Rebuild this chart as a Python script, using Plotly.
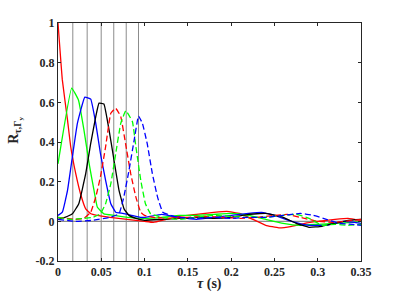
import plotly.graph_objects as go

# Vertical marker lines (peak delays)
marker_x = [0.0171, 0.0337, 0.0499, 0.0644, 0.0788, 0.0930]

# Series (tau, R)
red_x = [0, 0.005, 0.011, 0.0147, 0.0205, 0.026, 0.032, 0.038, 0.045, 0.06, 0.08, 0.1, 0.11, 0.125, 0.14, 0.16, 0.18, 0.195, 0.21, 0.225, 0.24, 0.255, 0.27, 0.285, 0.3, 0.32, 0.335, 0.35]
red_y = [1.0, 0.713, 0.51, 0.376, 0.24, 0.139, 0.063, 0.038, 0.03, 0.02, 0.01, 0.0, -0.005, 0.01, 0.025, 0.035, 0.045, 0.05, 0.04, 0.01, -0.02, -0.033, -0.025, -0.01, 0.0, 0.01, 0.015, 0.005]

green_x = [0, 0.0158, 0.0236, 0.03, 0.036, 0.0416, 0.0455, 0.053, 0.065, 0.08, 0.1, 0.12, 0.14, 0.16, 0.18, 0.2, 0.22, 0.24, 0.26, 0.28, 0.3, 0.32, 0.34, 0.35]
green_y = [0.29, 0.672, 0.612, 0.46, 0.29, 0.156, 0.071, 0.038, 0.03, 0.02, 0.015, 0.02, 0.03, 0.03, 0.035, 0.04, 0.03, 0.01, -0.01, -0.02, -0.015, -0.01, -0.005, 0.0]

blue_x = [0, 0.005, 0.011, 0.0166, 0.0224, 0.031, 0.0378, 0.0436, 0.049, 0.055, 0.061, 0.0667, 0.075, 0.085, 0.095, 0.1, 0.12, 0.14, 0.16, 0.18, 0.2, 0.22, 0.235, 0.25, 0.27, 0.29, 0.31, 0.33, 0.35]
blue_y = [0.03, 0.046, 0.156, 0.325, 0.494, 0.626, 0.616, 0.494, 0.342, 0.207, 0.089, 0.046, 0.04, 0.03, 0.02, 0.02, 0.035, 0.02, 0.01, 0.02, 0.03, 0.04, 0.045, 0.03, 0.0, -0.02, -0.02, 0.0, -0.01]

black_x = [0, 0.008, 0.0166, 0.024, 0.032, 0.0378, 0.0436, 0.0474, 0.053, 0.059, 0.0647, 0.0705, 0.0763, 0.082, 0.09, 0.1, 0.12, 0.14, 0.16, 0.18, 0.2, 0.22, 0.24, 0.26, 0.275, 0.29, 0.305, 0.32, 0.335, 0.35]
black_y = [0.01, 0.02, 0.038, 0.089, 0.24, 0.393, 0.528, 0.596, 0.592, 0.46, 0.308, 0.156, 0.063, 0.03, 0.015, 0.005, 0.01, 0.015, 0.02, 0.015, 0.02, 0.035, 0.04, 0.02, -0.01, -0.03, -0.025, -0.01, 0.005, 0.01]

red_d_x = [0, 0.01, 0.02, 0.03, 0.0378, 0.0436, 0.049, 0.055, 0.061, 0.0667, 0.0725, 0.078, 0.084, 0.09, 0.0956, 0.1, 0.11, 0.13, 0.15, 0.17, 0.19, 0.21, 0.23, 0.25, 0.265, 0.28, 0.3, 0.32, 0.34, 0.35]
red_d_y = [0.02, 0.015, 0.01, 0.015, 0.046, 0.122, 0.224, 0.376, 0.545, 0.57, 0.528, 0.393, 0.24, 0.122, 0.046, 0.03, 0.02, 0.015, 0.02, 0.025, 0.02, 0.015, 0.02, 0.03, 0.035, 0.02, 0.0, -0.005, 0.005, 0.01]

green_d_x = [0, 0.015, 0.03, 0.04, 0.049, 0.055, 0.061, 0.0667, 0.0725, 0.0783, 0.086, 0.09, 0.0956, 0.101, 0.107, 0.12, 0.14, 0.16, 0.18, 0.2, 0.22, 0.24, 0.26, 0.275, 0.29, 0.305, 0.32, 0.335, 0.35]
green_d_y = [0.02, 0.01, 0.015, 0.02, 0.038, 0.089, 0.19, 0.342, 0.494, 0.558, 0.502, 0.376, 0.207, 0.089, 0.038, 0.02, 0.01, 0.02, 0.03, 0.025, 0.02, 0.02, 0.03, 0.035, 0.015, -0.02, -0.015, -0.02, -0.015]

blue_d_x = [0, 0.02, 0.04, 0.06, 0.0705, 0.076, 0.082, 0.088, 0.093, 0.0975, 0.103, 0.109, 0.115, 0.121, 0.13, 0.14, 0.16, 0.18, 0.2, 0.22, 0.24, 0.26, 0.28, 0.295, 0.31, 0.325, 0.34, 0.35]
blue_d_y = [0.01, 0.0, 0.005, 0.02, 0.038, 0.122, 0.257, 0.41, 0.531, 0.494, 0.393, 0.24, 0.122, 0.046, 0.03, 0.02, 0.015, 0.02, 0.015, 0.02, 0.02, 0.03, 0.04, 0.03, 0.01, -0.01, -0.015, -0.02]

x_ticks = [0, 0.05, 0.1, 0.15, 0.2, 0.25, 0.3, 0.35]
x_tick_labels = ["0", "0.05", "0.1", "0.15", "0.2", "0.25", "0.3", "0.35"]
y_ticks = [-0.2, 0, 0.2, 0.4, 0.6, 0.8, 1]
y_tick_labels = ["-0.2", "0", "0.2", "0.4", "0.6", "0.8", "1"]
x_title = "<b><i>τ</i> (s)</b>"
y_title = "<b>R<sub>τ,Γ<sub>y</sub></sub></b>"

fig = go.Figure()

GRAY = "#8c8c8c"
for mx in marker_x:
    fig.add_trace(go.Scatter(x=[mx, mx], y=[-0.2, 1], mode="lines",
                             line=dict(color=GRAY, width=1), hoverinfo="skip"))
fig.add_trace(go.Scatter(x=[0, 0.35], y=[0, 0], mode="lines",
                         line=dict(color=GRAY, width=1.2), hoverinfo="skip"))

DASH = "6px,3px"
series = [
    (red_x, red_y, "#ff0000", "solid"),
    (green_x, green_y, "#00ff00", "solid"),
    (blue_x, blue_y, "#0000ff", "solid"),
    (black_x, black_y, "#000000", "solid"),
    (red_d_x, red_d_y, "#ff0000", DASH),
    (green_d_x, green_d_y, "#00ff00", DASH),
    (blue_d_x, blue_d_y, "#0000ff", DASH),
]
for xs, ys, c, d in series:
    fig.add_trace(go.Scatter(x=xs, y=ys, mode="lines",
                             line=dict(color=c, width=1.3, dash=d, shape="spline", smoothing=0.3)))

FONT = "Liberation Serif"
axis_common = dict(showgrid=False, zeroline=False, showline=True, linecolor="#262626",
                   linewidth=1, mirror="ticks", ticks="inside", ticklen=3,
                   tickcolor="#262626", automargin=False,
                   tickfont=dict(family=FONT, size=12, color="#262626"))

fig.update_layout(
    width=399, height=299,
    margin=dict(l=58, r=38, t=23, b=38),
    paper_bgcolor="white", plot_bgcolor="white",
    showlegend=False,
    font=dict(family=FONT, color="#262626"),
    xaxis=dict(range=[0, 0.35], tickvals=x_ticks, ticktext=["<b>%s</b>" % t for t in x_tick_labels],
               **axis_common),
    yaxis=dict(range=[-0.2, 1], tickvals=y_ticks, ticktext=["<b>%s</b>" % t for t in y_tick_labels],
               **axis_common),
    annotations=[
        dict(text=x_title, xref="paper", yref="paper", x=0.5, y=0, xanchor="center", yanchor="top",
             yshift=-13, showarrow=False, font=dict(family=FONT, size=14, color="#262626")),
        dict(text=y_title, xref="paper", yref="paper", x=-0.143, y=0.55, xanchor="center", yanchor="middle",
             textangle=-90, showarrow=False, font=dict(family=FONT, size=14, color="#262626")),
    ],
)

fig.write_html("out.html", config={"displayModeBar": False},
               post_script="document.body.style.margin='0';document.body.style.overflow='hidden';")
